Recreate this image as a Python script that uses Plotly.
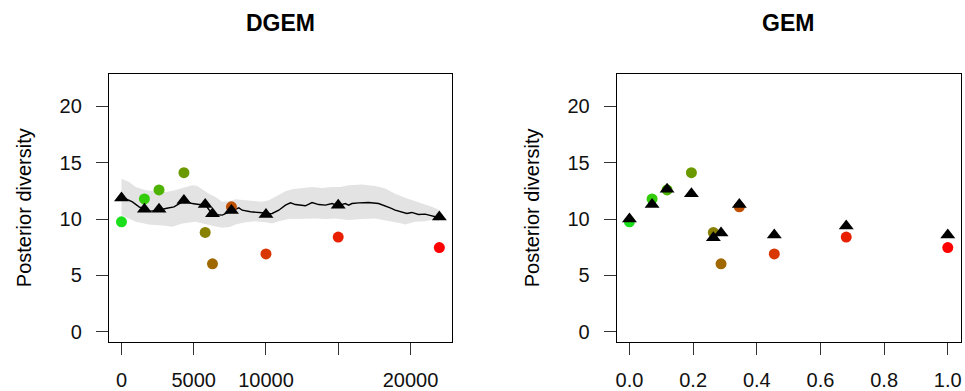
import plotly.graph_objects as go

# ---------------- data ----------------
# DGEM panel: times (x) of sampled points
dgem_x = [0, 1586, 2598, 4322, 5793, 6299, 7609, 10000, 15000, 22000]
dgem_tri_y = [11.88, 10.88, 10.88, 11.65, 11.29, 10.47, 10.76, 10.41, 11.24, 10.18]
# observed diversity (circles), same in both panels
obs_y = [9.76, 11.79, 12.59, 14.12, 8.82, 6.03, 11.09, 6.91, 8.41, 7.47]
obs_colors = ["#1ADF1A", "#33CC0A", "#4DB300", "#6B9A00", "#888000",
              "#A06800", "#C05000", "#D83800", "#E82000", "#FF0000"]

# DGEM trajectory line
line_x = [0, 297, 757, 1216, 1586, 2023, 2598, 3058, 3633, 4094, 4322, 4900, 5360,
          5793, 6050, 6299, 6970, 7545, 8124, 8354, 8930, 9736, 10000, 10428, 10888,
          11349, 11694, 12039, 12500, 12730, 13190, 13650, 14111, 14571, 15000, 15490,
          15720, 15950, 16410, 17101, 17792, 18252, 18597, 18943, 19403, 19748, 20094,
          20554, 21014, 21475, 21705, 22000]
line_y = [11.97, 11.82, 11.53, 11.09, 10.88, 10.71, 10.79, 10.94, 11.09, 11.44, 11.65,
          11.38, 11.29, 11.29, 10.79, 10.41, 10.35, 10.65, 11.00, 10.79, 10.65, 10.56,
          10.41, 10.50, 10.79, 11.24, 11.44, 11.29, 11.24, 11.18, 11.47, 11.29, 11.24,
          11.38, 11.20, 11.38, 11.24, 11.38, 11.44, 11.47, 11.38, 11.18, 11.00, 10.79,
          10.65, 10.50, 10.59, 10.41, 10.44, 10.29, 10.15, 10.12]

# DGEM uncertainty band
band_up_x = [0, 527, 987, 1678, 2368, 3058, 3633, 4209, 4900, 5245, 5590, 6050, 6510,
             6970, 7545, 7894, 8584, 9275, 9736, 10197, 10888, 11349, 11809, 12500,
             13190, 13879, 14571, 15145, 15720, 16641, 17562, 18252, 18943, 19633,
             20324, 21014, 21475, 22000]
band_up_y = [13.59, 13.29, 12.85, 12.56, 12.47, 12.41, 12.53, 12.76, 13.00, 12.94, 12.65,
             12.26, 11.97, 11.53, 11.60, 11.76, 11.68, 11.59, 11.53, 11.68, 12.12, 12.47,
             12.65, 12.76, 12.85, 12.76, 12.85, 12.85, 13.00, 13.06, 12.94, 12.71, 12.26,
             11.90, 11.60, 11.30, 11.10, 10.80]
band_lo_x = [0, 527, 987, 1908, 3058, 3518, 4209, 5130, 5590, 6280, 6970, 7545, 7894,
             8584, 9275, 9967, 10428, 10888, 11579, 12500, 13420, 14111, 14800, 15720,
             16641, 17562, 18252, 18943, 19403, 19633, 20324, 21014, 21475, 22000]
band_lo_y = [10.35, 10.06, 9.76, 9.53, 9.41, 9.32, 9.62, 9.76, 9.62, 9.41, 9.23, 9.32,
             9.53, 9.71, 9.82, 9.71, 9.62, 9.82, 10.00, 10.06, 10.06, 10.00, 10.06, 9.91,
             10.00, 10.06, 9.91, 9.71, 9.60, 9.53, 9.76, 9.82, 9.91, 9.82]

# GEM panel
gem_x = [0.0, 0.0711, 0.1182, 0.1946, 0.2636, 0.2877, 0.3452, 0.4550, 0.6810, 1.0]
gem_tri_y = [10.00, 11.29, 12.65, 12.26, 8.35, 8.76, 11.29, 8.59, 9.38, 8.59]

dgem_ticks = [0, 5000, 10000, 15000, 20000]
dgem_ticktext = ["0", "5000", "10000", "", "20000"]
gem_ticks = [0.0, 0.2, 0.4, 0.6, 0.8, 1.0]
gem_ticktext = ["0.0", "0.2", "0.4", "0.6", "0.8", "1.0"]
y_ticks = [0, 5, 10, 15, 20]

# ---------------- figure ----------------
W, H = 965, 391
FONT = "Liberation Sans, Arial, Helvetica, sans-serif"

fig = go.Figure()

poly_x = band_up_x + band_lo_x[::-1]
poly_y = band_up_y + band_lo_y[::-1]
fig.add_trace(go.Scatter(x=poly_x, y=poly_y, fill="toself", fillcolor="#E3E3E3",
                         line=dict(width=0), mode="lines", hoverinfo="skip",
                         xaxis="x", yaxis="y"))
fig.add_trace(go.Scatter(x=line_x, y=line_y, mode="lines",
                         line=dict(color="black", width=1.4), xaxis="x", yaxis="y"))
fig.add_trace(go.Scatter(x=dgem_x, y=obs_y, mode="markers",
                         marker=dict(symbol="circle", size=11, color=obs_colors,
                                     line=dict(width=0)), xaxis="x", yaxis="y"))
fig.add_trace(go.Scatter(x=dgem_x, y=dgem_tri_y, mode="markers",
                         marker=dict(symbol="triangle-up", size=13, color="black",
                                     line=dict(width=0)), xaxis="x", yaxis="y"))

fig.add_trace(go.Scatter(x=gem_x, y=obs_y, mode="markers",
                         marker=dict(symbol="circle", size=11, color=obs_colors,
                                     line=dict(width=0)), xaxis="x2", yaxis="y2"))
fig.add_trace(go.Scatter(x=gem_x, y=gem_tri_y, mode="markers",
                         marker=dict(symbol="triangle-up", size=13, color="black",
                                     line=dict(width=0)), xaxis="x2", yaxis="y2"))

def px_x(p):
    return p / W

def px_y(p):
    return (H - p) / H

axis_common = dict(showgrid=False, zeroline=False, showline=True, linecolor="black",
                   linewidth=1, mirror=True, ticks="outside", ticklen=12,
                   tickwidth=1, tickcolor="#333333",
                   tickfont=dict(family=FONT, size=20, color="#111111"))

ydom = [px_y(343.5), px_y(74.3)]

fig.update_layout(
    width=W, height=H,
    margin=dict(l=0, r=0, t=0, b=0),
    paper_bgcolor="white", plot_bgcolor="white",
    showlegend=False,
    xaxis=dict(domain=[px_x(108), px_x(452)], range=[-880, 22880],
               tickvals=dgem_ticks, ticktext=dgem_ticktext, anchor="y",
               ticklabelstandoff=8, **axis_common),
    yaxis=dict(domain=ydom, range=[-0.88, 22.88], tickvals=y_ticks, anchor="x",
               ticklabelstandoff=10, **axis_common),
    xaxis2=dict(domain=[px_x(617), px_x(961.5)], range=[-0.04, 1.04],
                tickvals=gem_ticks, ticktext=gem_ticktext, anchor="y2",
                ticklabelstandoff=8, **axis_common),
    yaxis2=dict(domain=ydom, range=[-0.88, 22.88], tickvals=y_ticks, anchor="x2",
                ticklabelstandoff=10, **axis_common),
    annotations=[
        dict(text="<b>DGEM</b>", x=px_x(280), y=px_y(23.5), xref="paper", yref="paper",
             showarrow=False, xanchor="center", yanchor="middle",
             font=dict(family=FONT, size=23, color="black")),
        dict(text="<b>GEM</b>", x=px_x(789), y=px_y(23.5), xref="paper", yref="paper",
             showarrow=False, xanchor="center", yanchor="middle",
             font=dict(family=FONT, size=23, color="black")),
        dict(text="Posterior diversity", x=px_x(23.3), y=px_y(209), xref="paper",
             yref="paper", showarrow=False, xanchor="center", yanchor="middle",
             textangle=-90, font=dict(family=FONT, size=20, color="black")),
        dict(text="Posterior diversity", x=px_x(532.5), y=px_y(209), xref="paper",
             yref="paper", showarrow=False, xanchor="center", yanchor="middle",
             textangle=-90, font=dict(family=FONT, size=20, color="black")),
    ],
)

fig.write_html("out.html")
